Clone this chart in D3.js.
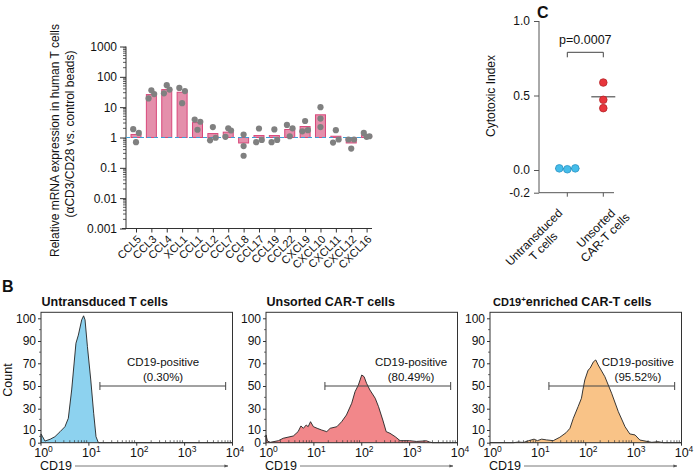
<!DOCTYPE html>
<html><head><meta charset="utf-8">
<script src="https://cdn.jsdelivr.net/npm/d3@7"></script>
<style>
body{margin:0;background:#fff}
svg{display:block}
text{font-family:"Liberation Sans",Arial,Helvetica,sans-serif;fill:#111}
</style></head>
<body><svg id="c" width="700" height="474"></svg>
<script>
// ---------------- DATA ----------------
// Panel A: chemokine mRNA fold change (log scale)
const genes = ["CCL5","CCL3","CCL4","XCL1","CCL1","CCL2","CCL7","CCL8","CCL17","CCL19","CCL22","CXCL9","CXCL10","CXCL11","CXCL12","CXCL16"];
const geneMeans = [1.26,26,38,31,3.1,1.35,1.5,0.66,1.16,1.16,1.84,2.3,5.6,1.1,0.66,1.19];
const repLeft   = [1.88,19.4,28.5,43,3.9,0.81,1.05,1.25,0.70,0.70,2.6,1.6,10,0.68,0.86,1.42];
const repCenter = [0.70,36,53,13.5,1.8,2.2,2.0,0.52,1.98,1.84,1.1,3.5,4.2,1.74,0.43,1.05];
const repRight  = [1.42,27,38,34,3.3,0.98,1.7,0.25,0.83,0.83,2.0,1.74,2.2,0.86,0.86,1.1];
const yTicksA = [0.001,0.01,0.1,1,10,100,1000];

// Panel C: cytotoxic index
const groupsC = ["Untransduced|T cells","Unsorted|CAR-T cells"];
const cytoUntransduced = [0.011,0.005,0.011];
const cytoUnsorted = [0.587,0.471,0.415];
const yTicksC = [-0.2,0.0,0.5,1.0];
const pValueText = "p=0.0007";

// Panel B: flow histograms [CD19 intensity, count]
const histUntransduced = [[1,0],[1,6.9],[1.08,4.7],[1.21,1.3],[1.55,2.7],[1.95,4.7],[2.51,8.7],[3.16,13.1],[3.72,21],[4.37,46.5],[5.37,88],[6.03,92.6],[7.08,99.3],[7.76,101.1],[8.32,99.3],[9.33,84.9],[10.96,55.3],[12.6,25.7],[14.1,4.7],[15.8,0],[10000,0]];
const histUnsorted = [[1,0],[1,6.1],[1.07,1.3],[1.23,0.3],[1.82,1.6],[2.29,3.5],[3.72,5.3],[4.68,8.7],[5.37,13.8],[6.03,11.6],[6.92,14.7],[7.59,13.1],[8.51,17.8],[9.77,13.1],[11.7,11.6],[14.5,10],[18.6,8.7],[21.9,11.6],[30.2,13.1],[38,17.8],[47.9,24.1],[61.7,34.8],[72.4,45],[85.1,50.9],[100,59.7],[112,58.2],[126,52.4],[148,46.5],[191,39.2],[224,31.8],[275,19.4],[324,8.7],[389,7.4],[501,4.7],[631,1.6],[1000,1.6],[1380,1.0],[2240,1.5],[2630,0.5],[3000,0],[10000,0]];
const histEnriched = [[1,0],[3.09,0],[3.89,0.5],[5.01,0.2],[6.31,1.5],[8.32,2.8],[9.77,1.6],[12.0,2.8],[15.1,2.2],[20.9,1.6],[28.8,4.3],[38.9,7.9],[46.8,11.6],[55,21],[69.2,31.8],[81.3,39.2],[87.1,46.5],[95.5,55.3],[112,64],[123,65.6],[145,71.4],[162,73],[182,68.5],[251,58.2],[347,43.6],[479,27.2],[661,13.1],[832,6.9],[1070,6.1],[1350,2.1],[2400,0.3],[3240,0.8],[4170,0],[10000,0]];
const histTitles = ["Untransduced T cells","Unsorted CAR-T cells","enriched CAR-T cells"];
const gatePercents = ["(0.30%)","(80.49%)","(95.52%)"];
const gateRange = [17,7200];
const gateLabelAt = [355,1070,1230];
const countTicks = [0,10,30,50,70,90,100];
const cd19Ticks = [1,10,100,1000,10000];

// ---------------- DRAW ----------------
const svg = d3.select("#c");
const defs = svg.append("defs");
defs.append("marker").attr("id","arr").attr("viewBox","0 0 10 10").attr("refX",9).attr("refY",5)
  .attr("markerWidth",5).attr("markerHeight",5).attr("orient","auto")
  .append("path").attr("d","M0,1.5L10,5L0,8.5Z").attr("fill","#555");

function styleAxis(g, color){
  g.selectAll("path.domain").remove();
  g.selectAll(".tick line").attr("stroke",color||"#333");
  g.selectAll(".tick text").attr("fill","#111").style("font-family",'"Liberation Sans",Arial,sans-serif');
}

// ===== Panel A =====
const xA = d3.scalePoint().domain(genes).range([136,366.6]);
const yA = d3.scaleLog().domain([0.001,1000]).range([228.5,46.5]);
const gA = svg.append("g");
const axAy = gA.append("g").attr("transform","translate(126,0)")
  .call(d3.axisLeft(yA).tickValues(yTicksA).tickFormat(d=>String(d)).tickSize(6).tickSizeOuter(0))
  .attr("font-size",12);
styleAxis(axAy);
axAy.selectAll(".tick text").attr("x",-9);
gA.append("g").selectAll("line").data(yA.ticks().filter(v=>!yTicksA.some(t=>Math.abs(t-v)/t<1e-6)))
  .join("line").attr("x1",123).attr("x2",126).attr("y1",d=>yA(d)).attr("y2",d=>yA(d)).attr("stroke","#333").attr("stroke-width",0.8);
gA.append("line").attr("x1",126).attr("x2",126).attr("y1",yA(1000)).attr("y2",yA(0.001)).attr("stroke","#333");
gA.append("line").attr("x1",122).attr("x2",372).attr("y1",yA(0.001)).attr("y2",yA(0.001)).attr("stroke","#333");
const axAx = gA.append("g").attr("transform",`translate(0,${yA(0.001)})`)
  .call(d3.axisBottom(xA).tickSize(4).tickSizeOuter(0)).attr("font-size",11);
styleAxis(axAx);
axAx.selectAll(".tick text").attr("x",0).attr("y",0).attr("dy","0.3em")
  .attr("text-anchor","end").attr("transform","translate(3,9) rotate(-45)");
const bw = 10;
gA.append("g").selectAll("rect").data(genes).join("rect")
  .attr("x",d=>xA(d)-bw/2).attr("width",bw)
  .attr("y",(d,i)=>Math.min(yA(geneMeans[i]),yA(1)))
  .attr("height",(d,i)=>Math.abs(yA(geneMeans[i])-yA(1)))
  .attr("fill","#e48fab").attr("stroke","#d8487b").attr("stroke-width",1);
gA.append("line").attr("x1",126).attr("x2",372).attr("y1",yA(1)).attr("y2",yA(1))
  .attr("stroke","#3d9ed6").attr("stroke-width",1).attr("stroke-dasharray","4,3");
const spread = genes.map(g => (g==="CCL8"||g==="CXCL10") ? 0 : 2.8);
const ptsA = [];
genes.forEach((g,i)=>{
  ptsA.push({g, v:repLeft[i], o:-spread[i]});
  ptsA.push({g, v:repCenter[i], o:0});
  ptsA.push({g, v:repRight[i], o:spread[i]});
});
gA.append("g").selectAll("circle").data(ptsA).join("circle")
  .attr("cx",d=>xA(d.g)+d.o).attr("cy",d=>yA(d.v)).attr("r",3.1).attr("fill","#808080");
const tA = gA.append("text").attr("transform",`translate(59,137.5) rotate(-90)`).attr("text-anchor","middle").attr("font-size",12);
tA.append("tspan").attr("x",-3).attr("y",0).text("Relative mRNA expression in human T cells");
tA.append("tspan").attr("x",3.5).attr("y",15).text("(\u03B1CD3/CD28 vs. control beads)");

// ===== Panel C =====
const yC = d3.scaleLinear().domain([-0.2,0,1]).range([192.7,170,21]);
const xC = d3.scalePoint().domain(groupsC).range([567.3,603.3]);
const gC = svg.append("g");
gC.append("text").attr("x",537).attr("y",18).attr("font-size",16).attr("font-weight","bold").text("C");
const axCy = gC.append("g").attr("transform","translate(539,0)")
  .call(d3.axisLeft(yC).tickValues(yTicksC).tickFormat(d=>d.toFixed(1)).tickSize(5).tickSizeOuter(0)).attr("font-size",12);
styleAxis(axCy,"#555");
axCy.selectAll(".tick text").attr("x",-9);
gC.append("line").attr("x1",539).attr("x2",539).attr("y1",yC(1)).attr("y2",yC(-0.2)).attr("stroke","#555");
gC.append("line").attr("x1",539).attr("x2",614).attr("y1",yC(-0.2)).attr("y2",yC(-0.2)).attr("stroke","#555");
gC.append("g").selectAll("line").data(groupsC).join("line")
  .attr("x1",d=>xC(d)).attr("x2",d=>xC(d)).attr("y1",yC(-0.2)).attr("y2",yC(-0.2)+4).attr("stroke","#555");
const labOff = [[-4,21],[18,16]];
groupsC.forEach((g,i)=>{
  const lines = g.split("|");
  const t = gC.append("text").attr("font-size",12).attr("text-anchor","middle")
    .attr("transform",`translate(${xC(g)+labOff[i][0]},${yC(-0.2)+labOff[i][1]}) rotate(-45)`);
  const tmp = lines.map(l=>{const s=gC.append("text").attr("font-size",12).text(l);const w=s.node().getComputedTextLength();s.remove();return w;});
  const Wl = d3.max(tmp);
  lines.forEach((l,j)=>t.append("tspan").attr("x",-Wl/2).attr("y",j*13).text(l));
});
gC.append("text").attr("font-size",12).attr("text-anchor","middle")
  .attr("transform","translate(495,96) rotate(-90)").text("Cytotoxic Index");
[[groupsC[0],cytoUntransduced],[groupsC[1],cytoUnsorted]].forEach(([g,vals])=>{
  const m = d3.mean(vals);
  gC.append("line").attr("x1",xC(g)-12).attr("x2",xC(g)+12).attr("y1",yC(m)).attr("y2",yC(m)).attr("stroke","#333").attr("stroke-width",1);
});
gC.append("g").selectAll("circle").data(cytoUntransduced).join("circle")
  .attr("cx",(d,i)=>xC(groupsC[0])+(i-1)*8).attr("cy",d=>yC(d)).attr("r",3.8)
  .attr("fill","#45bdea").attr("stroke","#2b93c4").attr("stroke-width",0.8);
gC.append("g").selectAll("circle").data(cytoUnsorted).join("circle")
  .attr("cx",xC(groupsC[1])).attr("cy",d=>yC(d)).attr("r",3.8)
  .attr("fill","#e8363c").attr("stroke","#b52428").attr("stroke-width",0.8);
const by = 52.3;
gC.append("path").attr("d",`M${xC(groupsC[0])},${by+5}V${by}H${xC(groupsC[1])}V${by+5}`)
  .attr("fill","none").attr("stroke","#444").attr("stroke-width",1);
gC.append("text").attr("x",(xC(groupsC[0])+xC(groupsC[1]))/2).attr("y",44).attr("text-anchor","middle").attr("font-size",12.5).text(pValueText);

// ===== Panel B =====
svg.append("text").attr("x",2).attr("y",292).attr("font-size",16).attr("font-weight","bold").text("B");
const yB = d3.scaleLinear().domain(countTicks).range([442.7,430,408.7,386,363.3,341,318.3]);
const panels = [
  {left:41, data:histUntransduced, fill:"#8dd2ef", title:histTitles[0]},
  {left:266, data:histUnsorted, fill:"#f2878a", title:histTitles[1]},
  {left:490, data:histEnriched, fill:"#f9c387", title:histTitles[2], sup:true}
];
const PW = 191.5, topB = 312.3, botB = 442.7;
panels.forEach((p,pi)=>{
  const g = svg.append("g");
  const x = d3.scaleLog().domain([1,10000]).range([p.left,p.left+PW]);
  const area = d3.area().x(d=>x(d[0])).y0(yB(0)).y1(d=>yB(d[1])).curve(d3.curveLinear);
  const line = d3.line().x(d=>x(d[0])).y(d=>yB(d[1]));
  g.append("path").datum(p.data).attr("d",area).attr("fill",p.fill);
  g.append("path").datum(p.data).attr("d",line).attr("fill","none").attr("stroke","#222").attr("stroke-width",0.9);
  g.append("rect").attr("x",p.left).attr("y",topB).attr("width",PW).attr("height",botB-topB)
    .attr("fill","none").attr("stroke","#333").attr("stroke-width",1);
  const ay = g.append("g").attr("transform",`translate(${p.left},0)`)
    .call(d3.axisLeft(yB).tickValues(countTicks).tickSize(3).tickSizeOuter(0)).attr("font-size",12);
  styleAxis(ay);
  ay.selectAll(".tick text").attr("x",-5);
  const minorY = [5,20,40,60,80,95];
  g.append("g").selectAll("line").data(minorY).join("line")
    .attr("x1",p.left-2).attr("x2",p.left).attr("y1",d=>yB(d)).attr("y2",d=>yB(d)).attr("stroke","#333").attr("stroke-width",0.7);
  const minorX = x.ticks().filter(v=>!cd19Ticks.includes(v));
  g.append("g").selectAll("line").data(minorX).join("line")
    .attr("x1",d=>x(d)).attr("x2",d=>x(d)).attr("y1",botB).attr("y2",botB-2.5).attr("stroke","#333").attr("stroke-width",0.7);
  g.append("g").selectAll("line").data(cd19Ticks).join("line")
    .attr("x1",d=>x(d)).attr("x2",d=>x(d)).attr("y1",botB).attr("y2",botB+3).attr("stroke","#333");
  const xl = g.append("g").selectAll("text").data(cd19Ticks).join("text")
    .attr("x",d=>x(d)-6.8).attr("y",457).attr("font-size",12.5);
  xl.append("tspan").text("10");
  xl.append("tspan").attr("dy",-5).attr("font-size",8.5).text(d=>Math.round(Math.log10(d)));
  g.append("text").attr("x",p.left-1).attr("y",470).attr("font-size",12.5).text("CD19");
  g.append("line").attr("x1",p.left+34).attr("x2",p.left+187).attr("y1",466).attr("y2",466)
    .attr("stroke","#555").attr("stroke-width",0.8).attr("marker-end","url(#arr)");
  const tt = g.append("text").attr("x",p.left+0.5).attr("y",306).attr("font-size",12.5).attr("font-weight","bold");
  if(p.sup){
    tt.attr("x",p.left+3);
    tt.append("tspan").attr("font-size",11).text("CD19");
    tt.append("tspan").attr("font-size",8).attr("dy",-4).text("+");
    tt.append("tspan").attr("dy",4).text(p.title);
  } else tt.text(p.title);
  const gy = yB(50);
  g.append("path").attr("d",`M${x(gateRange[0])},${gy-4}V${gy+4}M${x(gateRange[0])},${gy}H${x(gateRange[1])}M${x(gateRange[1])},${gy-4}V${gy+4}`)
    .attr("stroke","#444").attr("stroke-width",1).attr("fill","none");
  g.append("text").attr("x",x(gateLabelAt[pi])).attr("y",gy-20.5).attr("text-anchor","middle").attr("font-size",11.5).text("CD19-positive");
  g.append("text").attr("x",x(gateLabelAt[pi])).attr("y",gy-5.5).attr("text-anchor","middle").attr("font-size",11.5).text(gatePercents[pi]);
  if(pi===0) g.append("text").attr("transform","translate(12,380) rotate(-90)").attr("text-anchor","middle").attr("font-size",12.5).text("Count");
});
</script></body></html>
